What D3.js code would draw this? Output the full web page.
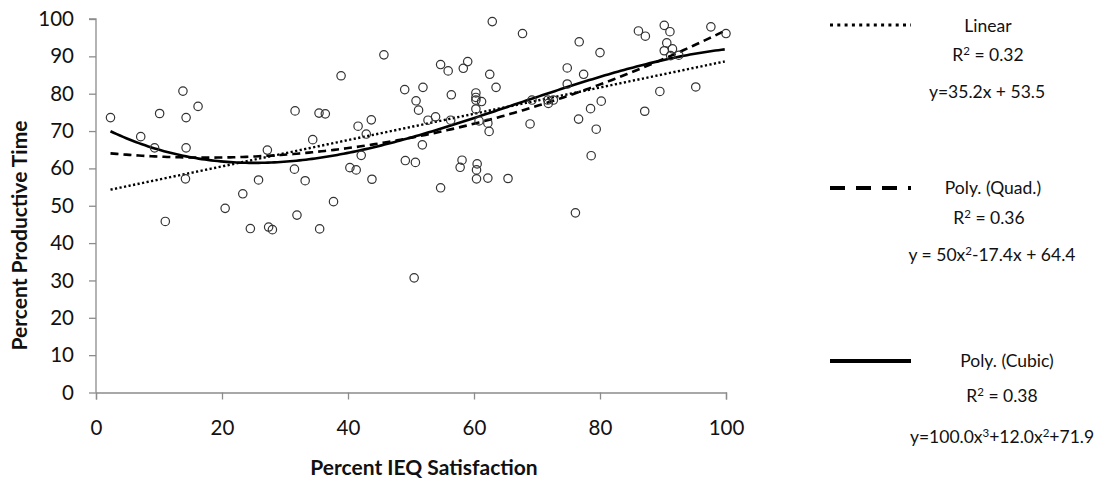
<!DOCTYPE html>
<html><head><meta charset="utf-8">
<script src="https://cdn.jsdelivr.net/npm/d3@7"></script>
<style>
html,body{margin:0;padding:0;background:#fff;}
svg{display:block;font-family:Lato, "Open Sans", sans-serif;}
</style></head>
<body>
<svg id="chart" width="1099" height="480"></svg>
<script>
// ---- data ----
const xValues = [2.3,7.1,9.3,10.1,11.0,13.8,14.3,14.3,14.2,16.2,20.5,23.3,24.5,25.8,27.2,27.4,28.0,31.6,31.5,31.9,33.2,34.4,35.4,36.4,35.5,37.7,38.9,40.3,41.3,41.6,42.1,42.9,43.7,43.8,45.7,49.0,49.1,50.5,50.7,50.8,51.2,51.8,51.9,52.7,53.9,54.7,54.7,55.9,56.4,56.3,57.8,58.1,58.3,59.0,60.3,60.3,60.3,60.3,60.4,60.5,60.4,61.2,60.8,62.2,62.4,62.2,62.5,62.9,63.5,65.4,67.7,68.9,69.2,71.7,72.6,71.8,74.8,74.8,76.1,76.6,76.7,77.4,78.5,78.6,79.4,80.0,80.2,86.1,87.2,87.1,89.5,90.2,91.1,90.6,91.5,90.2,92.5,91.2,95.2,97.6,100.0];
const yValues = [73.6,68.5,65.5,74.7,45.8,80.7,73.6,65.5,57.2,76.6,49.3,53.2,43.9,56.9,64.9,44.3,43.6,75.4,59.8,47.5,56.7,67.7,74.8,74.6,43.8,51.1,84.8,60.2,59.6,71.3,63.5,69.2,73.0,57.1,90.4,81.1,62.1,30.7,61.6,78.1,75.6,66.3,81.7,72.9,73.8,54.8,87.8,86.1,79.7,72.9,60.3,62.2,86.8,88.6,80.2,79.0,78.3,75.9,57.2,61.2,59.6,77.9,72.7,72.1,69.9,57.4,85.2,99.3,81.7,57.3,96.1,71.9,78.3,78.3,78.3,77.4,86.9,82.6,48.1,73.2,93.9,85.2,76.0,63.4,70.5,91.0,78.0,96.8,95.4,75.3,80.6,98.3,96.6,93.6,92.0,91.5,90.3,90.2,81.8,97.9,96.1];
const xTicks = [0,20,40,60,80,100];
const yTicks = [0,10,20,30,40,50,60,70,80,90,100];
// trend-line coefficients (x as a fraction 0..1), constant term first
const linearCoef = [53.5, 35.2];
const quadCoef = [64.4, -17.4, 50];
const cubicCoef = [71.9, -90, 221, -111];
const fitRange = [2.3, 100];
const xTitle = "Percent IEQ Satisfaction";
const yTitle = "Percent Productive Time";

const svg = d3.select("#chart");
const x = d3.scaleLinear().domain([0,100]).range([96,726]);
const y = d3.scaleLinear().domain([0,100]).range([392.5,19]);
const axisColor = "#8c8c8c";
const textColor = "#111";

// axes
const gx = svg.append("g").attr("transform",`translate(0,${y(0)})`)
  .call(d3.axisBottom(x).tickValues(xTicks).tickSize(7).tickPadding(21).tickFormat(d3.format("d")));
const gy = svg.append("g").attr("transform",`translate(${x(0)},0)`)
  .call(d3.axisLeft(y).tickValues(yTicks).tickSize(7).tickPadding(15).tickFormat(d3.format("d")));
[gx,gy].forEach(g=>{
  g.select(".domain").attr("stroke",axisColor).attr("stroke-width",1.3);
  g.selectAll(".tick line").attr("stroke",axisColor).attr("stroke-width",1.3);
  g.selectAll(".tick text").attr("fill",textColor).attr("font-size",20.5).attr("font-family","Lato");
});
gy.select(".domain").attr("d",`M-7,${y(100)}H0V${y(0)}`);

// titles
svg.append("text").attr("x",424).attr("y",475).attr("text-anchor","middle")
  .attr("font-size",21).attr("font-weight","bold").attr("fill",textColor).text(xTitle);
svg.append("text").attr("transform","translate(27,235.5) rotate(-90)").attr("text-anchor","middle")
  .attr("font-size",21).attr("font-weight","bold").attr("fill",textColor).text(yTitle);

// trend lines
function poly(coef){ return t => coef.reduce((s,c,i)=>s + c*Math.pow(t,i),0); }
const xs = d3.range(fitRange[0], fitRange[1]+0.001, 0.5);
function curve(coef){
  const f = poly(coef);
  return d3.line().x(d=>x(d)).y(d=>y(f(d/100)))(xs);
}
svg.append("path").attr("d",curve(linearCoef)).attr("fill","none").attr("stroke","#000")
  .attr("stroke-width",2.4).attr("stroke-dasharray","2.2,2.4");
svg.append("path").attr("d",curve(quadCoef)).attr("fill","none").attr("stroke","#000")
  .attr("stroke-width",2.6).attr("stroke-dasharray","8,5");
svg.append("path").attr("d",curve(cubicCoef)).attr("fill","none").attr("stroke","#000")
  .attr("stroke-width",2.6);

// points
svg.append("g").selectAll("circle").data(xValues.map((v,i)=>[v,yValues[i]])).join("circle")
  .attr("cx",d=>x(d[0])).attr("cy",d=>y(d[1])).attr("r",4.2)
  .attr("fill","none").attr("stroke","#333").attr("stroke-width",1.2);

// legend
const legend = [
  {dash:"3,4.3", w:3.2, ly:25, lines:[{t:["Linear"],cx:988,cy:26},{t:["R","2"," = 0.32"],cx:988,cy:55},{t:["y=35.2x + 53.5"],cx:987,cy:92}]},
  {dash:"15,11", w:4.2, ly:188, lines:[{t:["Poly. (Quad.)"],cx:993,cy:188},{t:["R","2"," = 0.36"],cx:989,cy:218},{t:["y = 50x","2","-17.4x + 64.4"],cx:992,cy:255}]},
  {dash:null, w:4.2, ly:361, lines:[{t:["Poly. (Cubic)"],cx:1007,cy:361},{t:["R","2"," = 0.38"],cx:1002,cy:396},{t:["y=100.0x","3","+12.0x","2","+71.9"],cx:1002,cy:437}]}
];
legend.forEach(L=>{
  const p = svg.append("line").attr("x1",830).attr("x2",911).attr("y1",L.ly).attr("y2",L.ly)
    .attr("stroke","#000").attr("stroke-width",L.w);
  if(L.dash) p.attr("stroke-dasharray",L.dash);
  L.lines.forEach(ln=>{
    const t = svg.append("text").attr("x",ln.cx).attr("y",ln.cy+6).attr("text-anchor","middle")
      .attr("font-size",17.5).attr("fill",textColor);
    ln.t.forEach((s,i)=>{
      const sup = i%2===1;
      t.append("tspan").attr("font-size",sup?11.5:17.5).attr("dy",sup?-6:(i>0?6:0)).text(s);
    });
  });
});
</script>
</body></html>
